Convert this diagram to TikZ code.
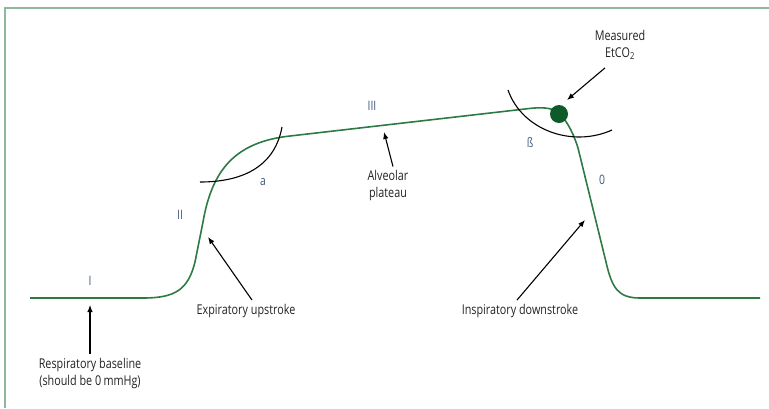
\documentclass[tikz,border=0pt]{standalone}
\usepackage{fontspec}
\setmainfont{Open Sans}[FakeStretch=0.8]
\usetikzlibrary{arrows.meta}
\definecolor{curvegreen}{HTML}{2E7A45}
\definecolor{dotgreen}{HTML}{0F5A2A}
\definecolor{framegreen}{HTML}{8DB99A}
\definecolor{phasecol}{HTML}{3E5877}
\definecolor{textcol}{HTML}{222222}
\tikzset{
  wave/.style={curvegreen, line width=1.6pt, line join=round},
  phase/.style={font=\fontsize{13}{15}\selectfont, text=phasecol, inner sep=0pt},
  callout/.style={font=\fontsize{13.5}{17}\selectfont, text=textcol, align=center, inner sep=0pt},
  pointer/.style={black, line width=1.1pt, -{Latex[length=7pt,width=5.5pt]}},
  anglearc/.style={black, line width=1.1pt},
}
\begin{document}
\begin{tikzpicture}[x=1pt,y=-1pt]
\useasboundingbox (0,0) rectangle (769,408);
% frame
\draw[framegreen, line width=1.4pt] (769,8) -- (5,8) -- (5,408);

% capnogram trace
\draw[wave] (30,298) -- (143,298)
  .. controls (175,298) and (188,290) .. (195,262)
  -- (203,222)
  .. controls (212,170) and (235,142) .. (290,136)
  -- (525,109)
  .. controls (540,107) and (552,107) .. (559,113)
  .. controls (568,122) and (574,135) .. (578,148)
  -- (606,262)
  .. controls (612,288) and (618,298) .. (640,298)
  -- (760,298);

% angle arcs
\draw[anglearc] (200,182) .. controls (245,182) and (275,165) .. (282,127);
\draw[anglearc] (508,90) .. controls (522,130) and (572,148) .. (612,130);

% end-tidal point
\node[circle, fill=dotgreen, minimum size=18pt, inner sep=0pt] (etco2) at (559,114) {};

% phase labels
\node[phase] (ph1) at (90,281) {I};
\node[phase] (ph2) at (180,215) {II};
\node[phase] (ph3) at (372,106) {III};
\node[phase] (pha) at (263,182) {a};
\node[phase] (phb) at (530,143) {ß};
\node[phase] (ph0) at (602,180) {0};

% callouts
\node[callout] (meas) at (620,45) {Measured\\EtCO\textsubscript{2}};
\node[callout] (alv) at (388,185) {Alveolar\\plateau};
\node[callout] (exp) at (246,311) {Expiratory upstroke};
\node[callout] (insp) at (520,311) {Inspiratory downstroke};
\node[callout] (base) at (90,373) {Respiratory baseline\\(should be 0\,mmHg)};

% pointer targets
\coordinate (tmeas) at (567,100);
\coordinate (talv) at (384,132);
\coordinate (texp) at (208,237);
\coordinate (tinsp) at (585,220);
\coordinate (tbase) at (90,305);

\draw[pointer] ([shift={(-15,8)}]meas.south) -- (tmeas);
\draw[pointer] ([shift={(5,-3)}]alv.north) -- (talv);
\draw[pointer] ([shift={(6,-4)}]exp.north) -- (texp);
\draw[pointer] ([shift={(-3,-4)}]insp.north) -- (tinsp);
\draw[pointer] ([shift={(0,-4)}]base.north) -- (tbase);
\end{tikzpicture}
\end{document}
